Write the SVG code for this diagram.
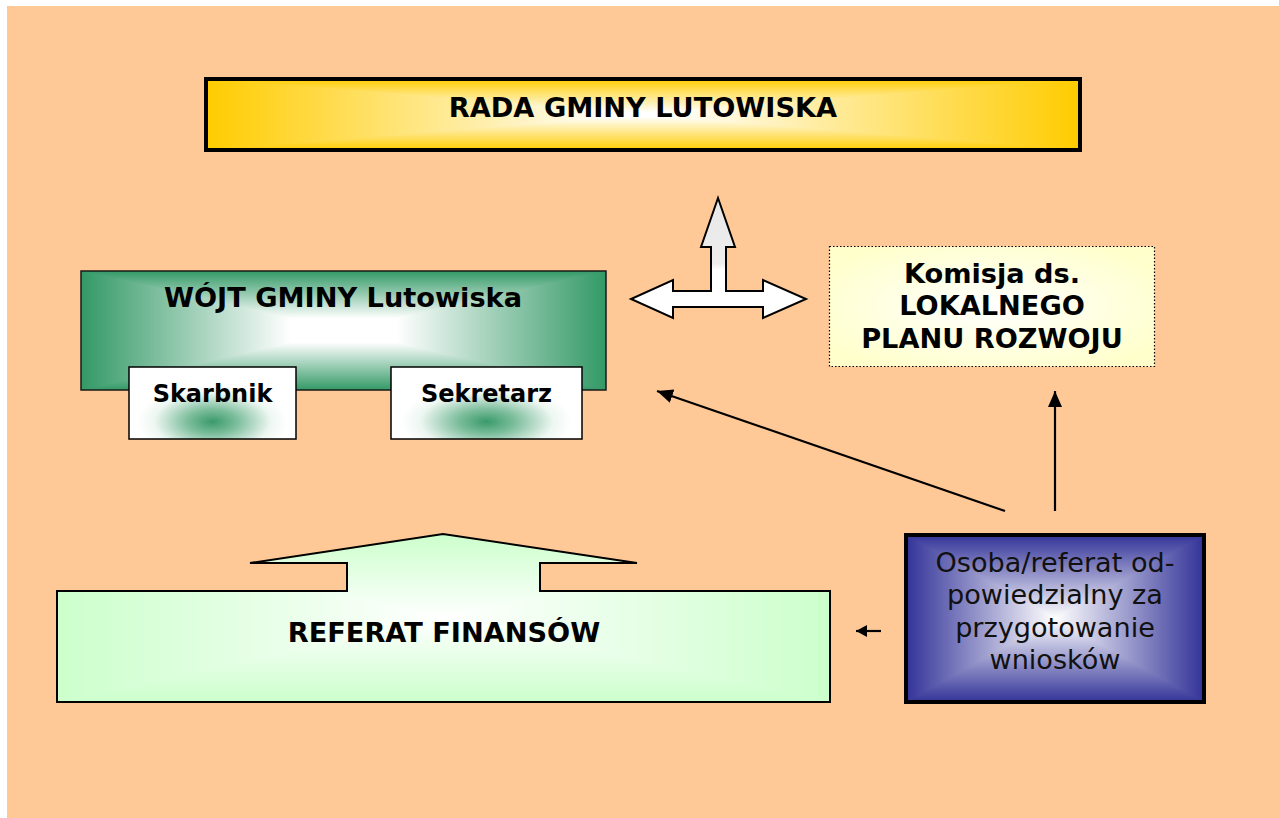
<svg xmlns="http://www.w3.org/2000/svg" width="1279" height="818" viewBox="0 0 1279 818">
<style>
.bt{font-family:"DejaVu Sans","Liberation Sans",sans-serif;font-weight:bold;font-size:27.2px;fill:#000;text-anchor:middle}
.rt{font-family:"DejaVu Sans","Liberation Sans",sans-serif;font-size:27.1px;fill:#111;text-anchor:middle}
.st{font-size:24px}
.conn{stroke:#000;stroke-width:2.2;fill:none}
</style>
<defs>
<linearGradient id="yH" x1="0" y1="0" x2="1" y2="0"><stop offset="0" stop-color="#FFCC00"/><stop offset="0.47" stop-color="#FFFFFF"/><stop offset="0.53" stop-color="#FFFFFF"/><stop offset="1" stop-color="#FFCC00"/></linearGradient>
<linearGradient id="yT" x1="0" y1="0" x2="0" y2="1"><stop offset="0" stop-color="#FFCC00"/><stop offset="0.94" stop-color="#FFFFFF"/></linearGradient>
<linearGradient id="yB" x1="0" y1="0" x2="0" y2="1"><stop offset="0.06" stop-color="#FFFFFF"/><stop offset="1" stop-color="#FFCC00"/></linearGradient>
<linearGradient id="gH" x1="0" y1="0" x2="1" y2="0"><stop offset="0" stop-color="#339966"/><stop offset="0.4" stop-color="#FFFFFF"/><stop offset="0.6" stop-color="#FFFFFF"/><stop offset="1" stop-color="#339966"/></linearGradient>
<linearGradient id="gT" x1="0" y1="0" x2="0" y2="1"><stop offset="0" stop-color="#339966"/><stop offset="0.8" stop-color="#FFFFFF"/></linearGradient>
<linearGradient id="gB" x1="0" y1="0" x2="0" y2="1"><stop offset="0.2" stop-color="#FFFFFF"/><stop offset="1" stop-color="#339966"/></linearGradient>
<linearGradient id="nH" x1="0" y1="0" x2="1" y2="0"><stop offset="0" stop-color="#333399"/><stop offset="0.5" stop-color="#FFFFFF"/><stop offset="1" stop-color="#333399"/></linearGradient>
<linearGradient id="nT" x1="0" y1="0" x2="0" y2="1"><stop offset="0" stop-color="#333399"/><stop offset="1" stop-color="#FFFFFF"/></linearGradient>
<linearGradient id="nB" x1="0" y1="0" x2="0" y2="1"><stop offset="0" stop-color="#FFFFFF"/><stop offset="1" stop-color="#333399"/></linearGradient>
<linearGradient id="lH" x1="0" y1="0" x2="1" y2="0"><stop offset="0" stop-color="#CCFFCC"/><stop offset="0.5" stop-color="#FFFFFF"/><stop offset="1" stop-color="#CCFFCC"/></linearGradient>
<linearGradient id="lT" x1="0" y1="0" x2="0" y2="1"><stop offset="0" stop-color="#CCFFCC"/><stop offset="1" stop-color="#FFFFFF"/></linearGradient>
<linearGradient id="lB" x1="0" y1="0" x2="0" y2="1"><stop offset="0" stop-color="#FFFFFF"/><stop offset="1" stop-color="#CCFFCC"/></linearGradient>
<radialGradient id="kY" cx="0.5" cy="0.5" r="0.6"><stop offset="0" stop-color="#FFFFFF"/><stop offset="0.6" stop-color="#FFFFE0"/><stop offset="1" stop-color="#FFFFCC"/></radialGradient>
<radialGradient id="sub" cx="0.5" cy="0.76" r="0.5" gradientTransform="translate(0.5,0.76) scale(1,1.15) translate(-0.5,-0.76)"><stop offset="0" stop-color="#3A9A6A"/><stop offset="0.3" stop-color="#7DBE9D"/><stop offset="0.7" stop-color="#EEF7F2"/><stop offset="0.9" stop-color="#FFFFFF"/></radialGradient>
<linearGradient id="arrG" gradientUnits="userSpaceOnUse" x1="0" y1="198" x2="0" y2="307"><stop offset="0" stop-color="#E8E8E8"/><stop offset="0.6" stop-color="#EDEDED"/><stop offset="0.66" stop-color="#FFFFFF"/></linearGradient>
<clipPath id="refClip"><path d="M57,591 L347,591 L347,563 L250,563 L443,534 L637,563 L540,563 L540,591 L830,591 L830,702 L57,702 Z"/></clipPath>
<marker id="ah" markerUnits="userSpaceOnUse" markerWidth="18" markerHeight="16" refX="16" refY="7" orient="auto"><path d="M0,0 L16,7 L0,14 Z" fill="#000"/></marker>
<marker id="ahs" markerUnits="userSpaceOnUse" markerWidth="12" markerHeight="12" refX="11" refY="6" orient="auto"><path d="M0,0 L11,6 L0,12 Z" fill="#000"/></marker>
</defs>

<rect x="0" y="0" width="1279" height="818" fill="#FFFFFF"/>
<rect x="7" y="6" width="1272" height="812" fill="#FFC997"/>

<g id="connectors">
<path d="M718,198 L735,247 L726,247 L726,291 L763,291 L763,280 L806,299 L763,318 L763,307 L673,307 L673,318 L631,299 L673,280 L673,291 L711,291 L711,247 L701,247 Z" fill="url(#arrG)" stroke="#000" stroke-width="2" stroke-linejoin="miter"/>
<line class="conn" x1="1005" y1="511" x2="657" y2="391" marker-end="url(#ah)"/>
<line class="conn" x1="1055" y1="511" x2="1055" y2="391" marker-end="url(#ah)"/>
<line class="conn" x1="881" y1="631" x2="856" y2="631" marker-end="url(#ahs)"/>
</g>

<g id="rada">
<rect x="206" y="79" width="874" height="71" fill="url(#yH)"/>
<polygon points="206,79 1080,79 643,114.5" fill="url(#yT)"/>
<polygon points="206,150 1080,150 643,114.5" fill="url(#yB)"/>
<rect x="206" y="79" width="874" height="71" fill="none" stroke="#000" stroke-width="4"/>
<text class="bt" x="643" y="117">RADA GMINY LUTOWISKA</text>
</g>

<g id="wojt">
<rect x="81" y="271" width="525" height="119" fill="url(#gH)"/>
<polygon points="81,271 606,271 343.5,330.5" fill="url(#gT)"/>
<polygon points="81,390 606,390 343.5,330.5" fill="url(#gB)"/>
<rect x="81" y="271" width="525" height="119" fill="none" stroke="#1a1a1a" stroke-width="1.5"/>
<text class="bt" x="343" y="307">WÓJT GMINY Lutowiska</text>
</g>

<g id="skarbnik">
<rect x="129" y="367" width="167" height="72" fill="url(#sub)" stroke="#000" stroke-width="1.5"/>
<text class="bt st" x="212.5" y="402">Skarbnik</text>
</g>

<g id="sekretarz">
<rect x="391" y="367" width="191" height="72" fill="url(#sub)" stroke="#000" stroke-width="1.5"/>
<text class="bt st" x="486.5" y="402">Sekretarz</text>
</g>

<g id="komisja">
<rect x="829.5" y="246.5" width="325" height="120" fill="url(#kY)" stroke="#000" stroke-width="1.2" stroke-dasharray="1.5,2"/>
<text class="bt" x="992" y="283">Komisja ds.</text>
<text class="bt" x="992" y="315">LOKALNEGO</text>
<text class="bt" x="992" y="348">PLANU ROZWOJU</text>
</g>

<g id="referat">
<g clip-path="url(#refClip)">
<rect x="57" y="534" width="773" height="168" fill="url(#lH)"/>
<polygon points="57,534 830,534 443.5,618" fill="url(#lT)"/>
<polygon points="57,702 830,702 443.5,618" fill="url(#lB)"/>
</g>
<path d="M57,591 L347,591 L347,563 L250,563 L443,534 L637,563 L540,563 L540,591 L830,591 L830,702 L57,702 Z" fill="none" stroke="#000" stroke-width="2"/>
<text class="bt" x="444" y="642">REFERAT FINANSÓW</text>
</g>

<g id="osoba">
<rect x="906" y="535" width="298" height="167" fill="url(#nH)"/>
<polygon points="906,535 1204,535 1055,618.5" fill="url(#nT)"/>
<polygon points="906,702 1204,702 1055,618.5" fill="url(#nB)"/>
<rect x="906" y="535" width="298" height="167" fill="none" stroke="#000" stroke-width="4"/>
<text class="rt" x="1055" y="572">Osoba/referat od-</text>
<text class="rt" x="1055" y="604">powiedzialny za</text>
<text class="rt" x="1055" y="637">przygotowanie</text>
<text class="rt" x="1055" y="669">wniosków</text>
</g>
</svg>
